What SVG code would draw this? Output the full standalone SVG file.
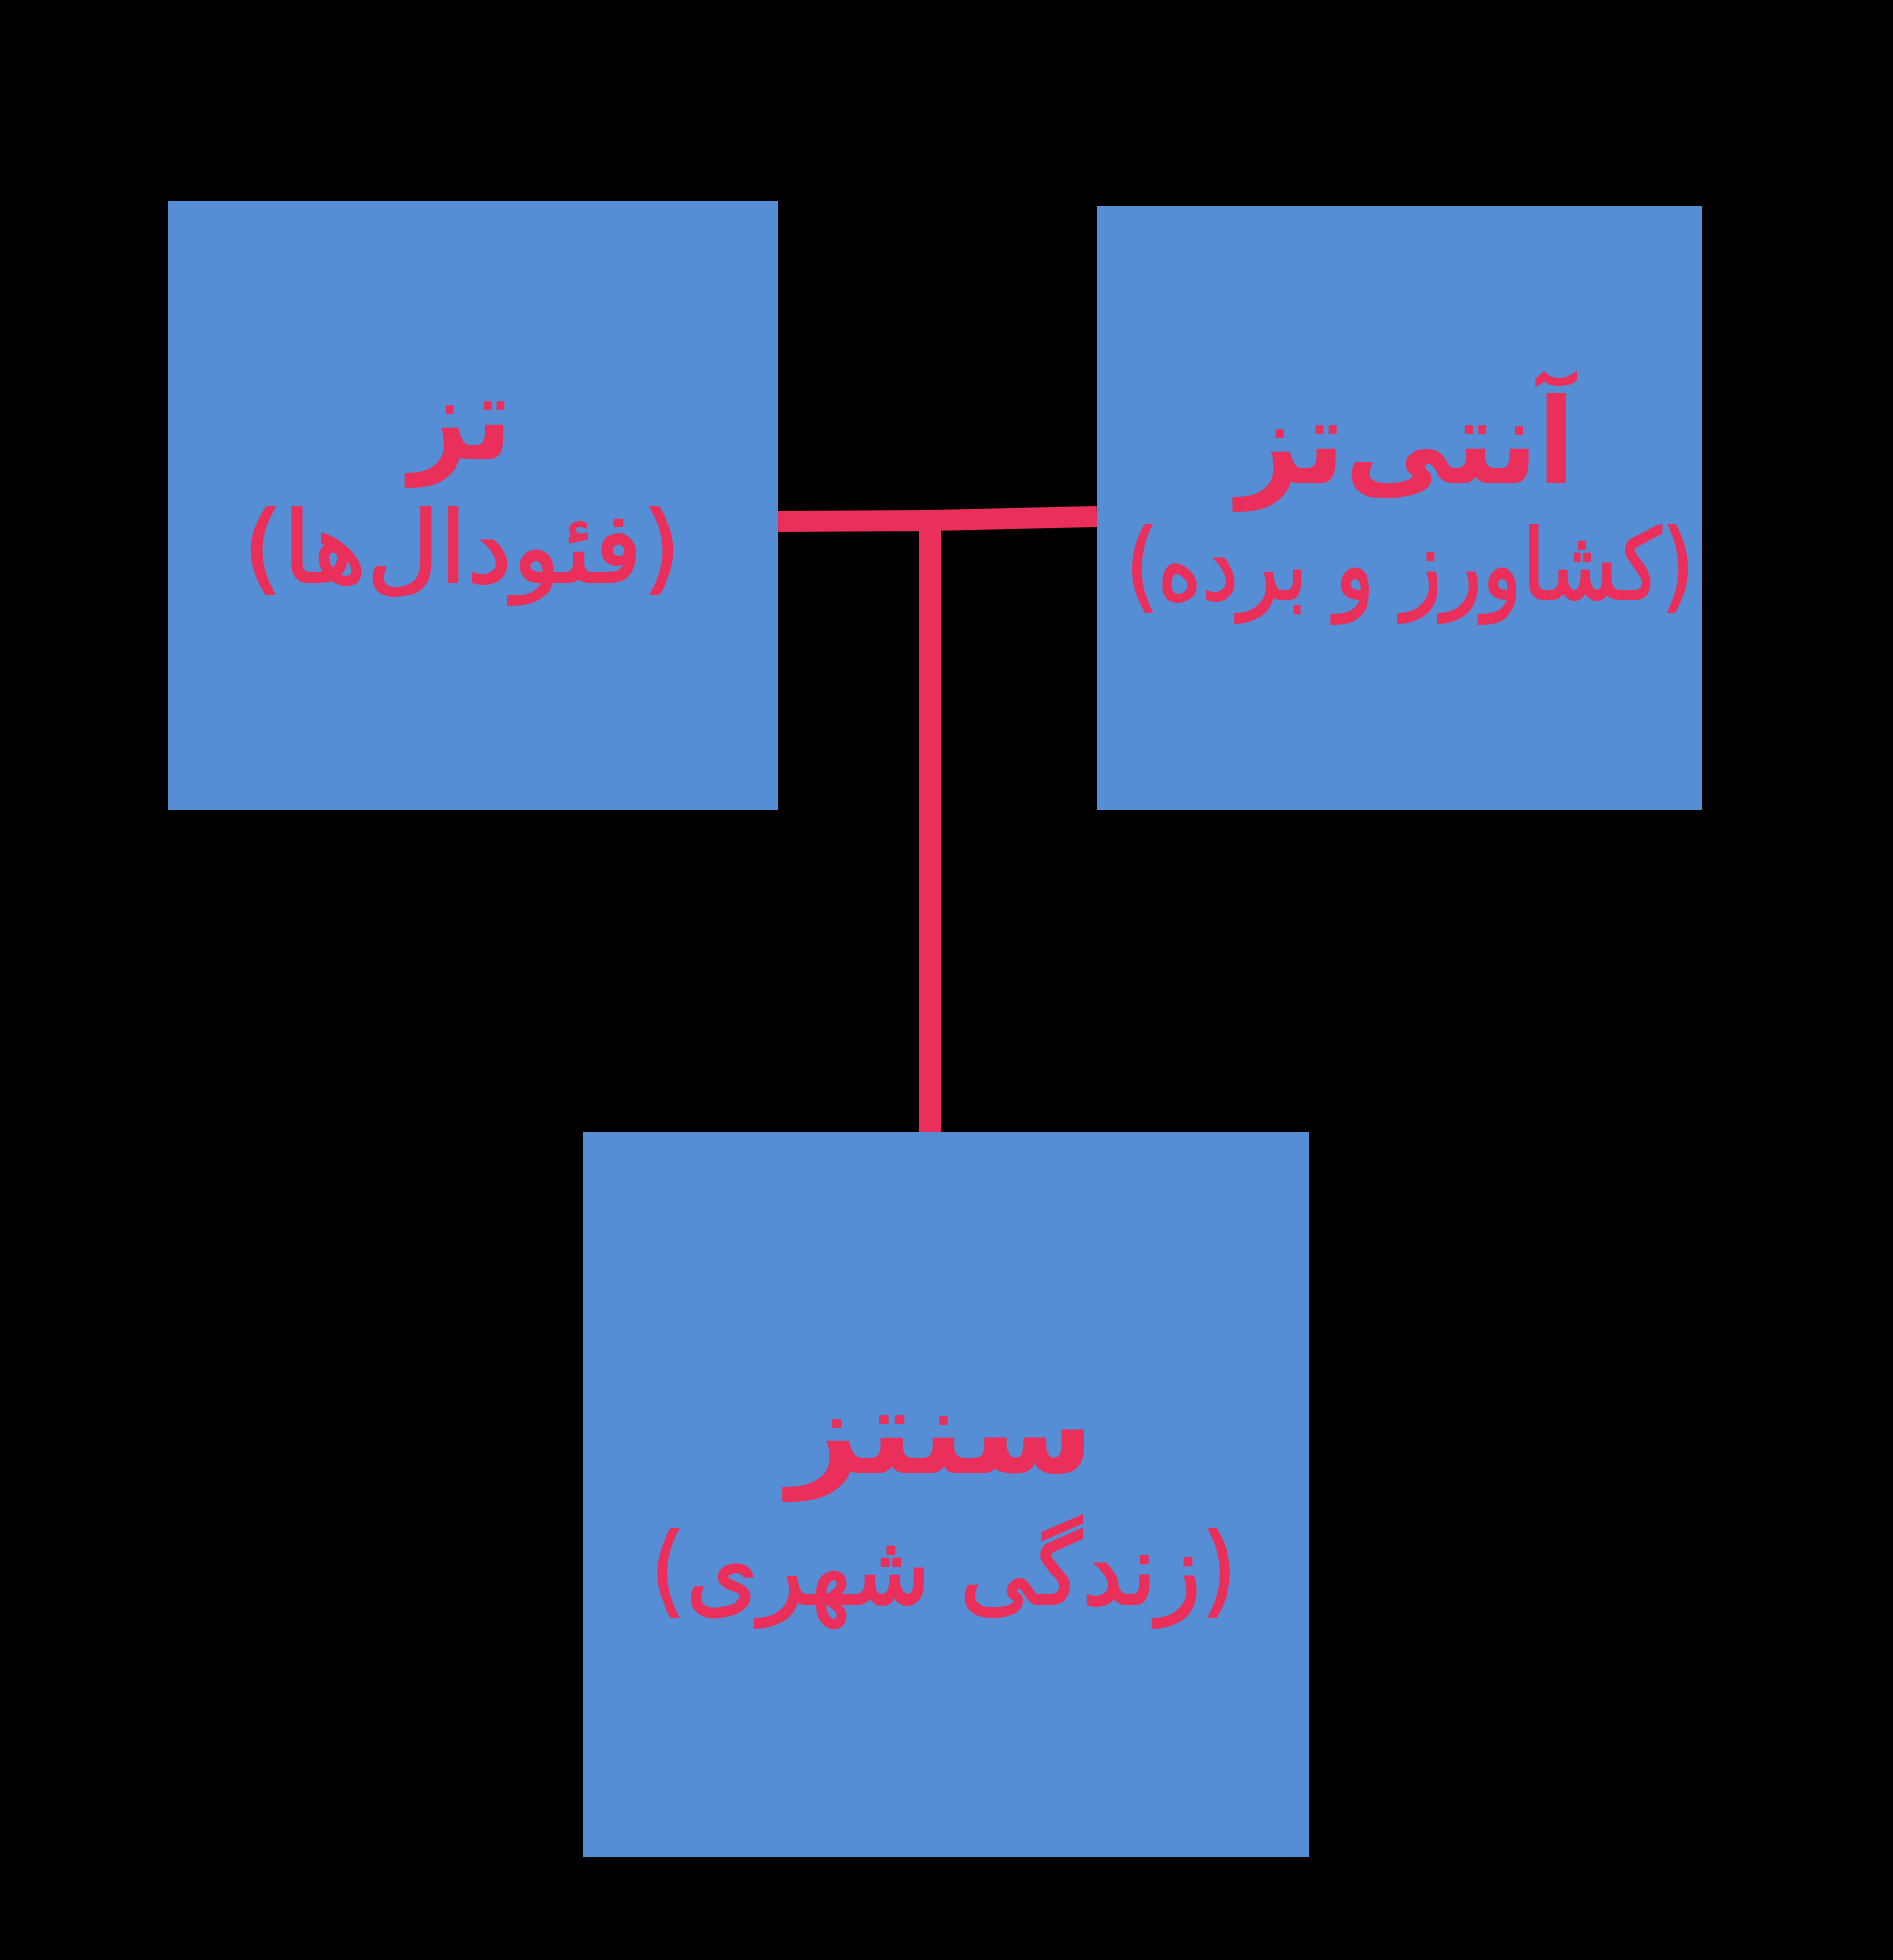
<svg xmlns="http://www.w3.org/2000/svg" width="1920" height="1988" viewBox="0 0 1920 1988">
<style>
.box{fill:#558ED5}
.t{fill:#EA2F5A;font-family:"DejaVu Sans","Noto Sans",sans-serif;text-anchor:middle;direction:rtl}
.h{font-weight:bold;font-size:120px}
.s{font-size:100px;stroke:#EA2F5A;stroke-width:2}
.c{stroke:#EA2F5A;stroke-width:22;fill:none}
</style>
<rect width="1920" height="1988" fill="#000"/>
<g id="connectors">
<path class="c" d="M789,529 L943,528 L1113,524 M943,528 L943,1148"/>
</g>
<g id="node-thesis">
<rect class="box" x="170" y="204" width="619" height="618"/>
<text class="t h" x="467" y="466" textLength="104" lengthAdjust="spacingAndGlyphs">تز</text>
<text class="t s" x="469" y="590" textLength="444" lengthAdjust="spacingAndGlyphs">(فئودال‌ها)</text>
</g>
<g id="node-antithesis">
<rect class="box" x="1113" y="209" width="613" height="613"/>
<text class="t h" x="1426" y="490" textLength="342" lengthAdjust="spacingAndGlyphs">آنتی‌تز</text>
<text class="t s" x="1430" y="608" textLength="577" lengthAdjust="spacingAndGlyphs">(کشاورز و برده)</text>
</g>
<g id="node-synthesis">
<rect class="box" x="591" y="1148" width="737" height="736"/>
<text class="t h" x="954" y="1494" textLength="311" lengthAdjust="spacingAndGlyphs">سنتز</text>
<text class="t s" x="957" y="1627" textLength="596" lengthAdjust="spacingAndGlyphs">(زندگی شهری)</text>
</g>
</svg>
